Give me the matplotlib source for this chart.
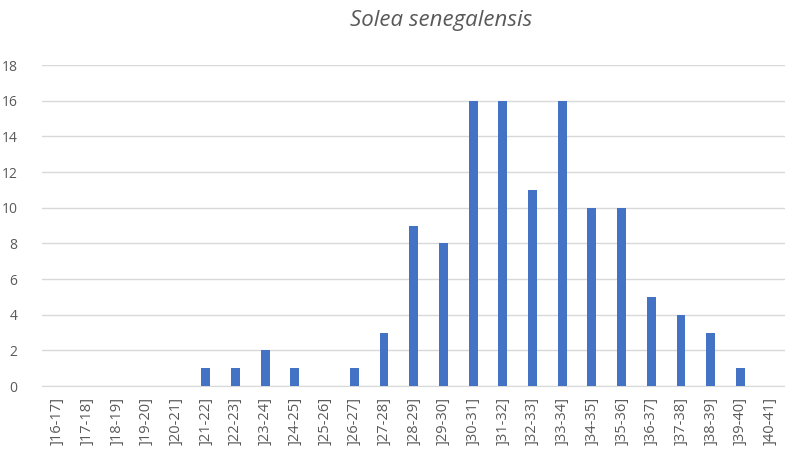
import matplotlib
matplotlib.use("Agg")
import matplotlib.pyplot as plt

categories = [f"]{a}-{a+1}]" for a in range(16, 41)]
values = [0, 0, 0, 0, 0, 1, 1, 2, 1, 0, 1, 3, 9, 8, 16, 16, 11, 16, 10, 10, 5, 4, 3, 1, 0]
yticks = list(range(0, 19, 2))

plt.rcParams['font.family'] = ['Open Sans', 'DejaVu Sans']
fig = plt.figure(figsize=(7.85, 4.62), dpi=100)
ax = fig.add_axes([0.054, 0.1645, 0.946, 0.6945])
x = range(len(categories))
ax.bar(x, values, width=0.3, color='#4472C4', zorder=3)
ax.set_xlim(-0.5, len(categories) - 0.5)
ax.set_ylim(0, 18)
ax.set_yticks(yticks)
ax.set_yticklabels([str(v) for v in yticks], color='#595959', fontsize=10)
ax.set_xticks(list(x))
ax.set_xticklabels(categories, rotation=90, color='#595959', fontsize=10.5)
ax.grid(axis='y', color='#D9D9D9', linewidth=1, zorder=0)
for s in ['top', 'right', 'left']:
    ax.spines[s].set_visible(False)
ax.spines['bottom'].set_color('#D9D9D9')
ax.tick_params(axis='both', length=0)
ax.tick_params(axis='y', pad=18)
ax.tick_params(axis='x', pad=8)
fig.text(0.562, 0.955, 'Solea senegalensis', ha='center', va='center', fontsize=16,
         style='italic', color='#595959')
fig.savefig('out.png', dpi=100)
